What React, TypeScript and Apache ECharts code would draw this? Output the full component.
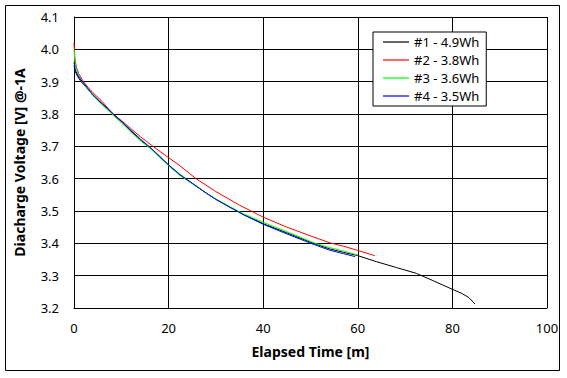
import React, { useEffect, useRef } from "react";
import * as echarts from "echarts";

const seriesNames = ["#1 - 4.9Wh", "#2 - 3.8Wh", "#3 - 3.6Wh", "#4 - 3.5Wh"];
const seriesColors = ["#000000", "#ff0000", "#00ff00", "#0000ff"];

const xTitle = "Elapsed Time [m]";
const yTitle = "Diacharge Voltage [V] @-1A";

// #1 - 4.9Wh (black)
const s1Time = [0, 0.3, 0.8, 1.5, 2.5, 4, 6, 8, 10, 12, 14, 16, 18, 20, 22.4, 25, 28, 30, 33, 36, 40, 44, 48, 51, 54, 57, 60, 64, 68.2, 72.4, 76, 79.5, 82, 83.5, 84.8];
const s1Volt = [3.95, 3.93, 3.915, 3.9, 3.884, 3.858, 3.83, 3.803, 3.776, 3.748, 3.72, 3.696, 3.669, 3.641, 3.611, 3.585, 3.555, 3.536, 3.512, 3.488, 3.461, 3.438, 3.415, 3.398, 3.383, 3.372, 3.362, 3.343, 3.325, 3.307, 3.284, 3.261, 3.245, 3.232, 3.212];

// #2 - 3.8Wh (red)
const s2Time = [0, 0.2, 0.5, 1, 2, 3, 4, 6, 8.2, 10, 12, 14, 16.7, 20, 22.4, 25.8, 30, 35, 40, 45, 50, 54, 57, 60, 63.6];
const s2Volt = [4.02, 3.97, 3.945, 3.925, 3.9, 3.882, 3.866, 3.838, 3.8, 3.78, 3.755, 3.73, 3.7, 3.665, 3.64, 3.6, 3.56, 3.518, 3.481, 3.45, 3.423, 3.402, 3.391, 3.378, 3.362];

// #3 - 3.6Wh (green)
const s3Time = [0, 0.3, 0.8, 1.5, 2.5, 4, 6, 8, 10, 12, 14, 16, 18, 20, 22.4, 25, 28, 30, 33, 36, 40, 44, 48, 51, 54, 57, 60];
const s3Volt = [4.0, 3.95, 3.925, 3.905, 3.885, 3.857, 3.828, 3.8, 3.773, 3.745, 3.718, 3.695, 3.668, 3.64, 3.61, 3.585, 3.555, 3.537, 3.513, 3.49, 3.465, 3.442, 3.418, 3.4, 3.387, 3.376, 3.364];

// #4 - 3.5Wh (blue)
const s4Time = [0, 0.3, 0.8, 1.5, 2.5, 4, 6, 8, 10, 12, 14, 16, 18, 20, 22.4, 25, 28, 30, 33, 36, 40, 44, 48, 51, 54, 57, 59.4];
const s4Volt = [3.96, 3.935, 3.92, 3.905, 3.887, 3.86, 3.832, 3.805, 3.778, 3.75, 3.723, 3.698, 3.671, 3.643, 3.613, 3.586, 3.555, 3.536, 3.511, 3.487, 3.459, 3.435, 3.412, 3.395, 3.379, 3.368, 3.359];

const allTimes = [s1Time, s2Time, s3Time, s4Time];
const allVolts = [s1Volt, s2Volt, s3Volt, s4Volt];

const FONT = "Noto Sans";

export default function App() {
  const ref = useRef<HTMLDivElement>(null);
  useEffect(() => {
    if (!ref.current) return;
    const chart = echarts.init(ref.current, undefined, { renderer: "svg" });
    const series = seriesNames.map((name, i) => ({
      name,
      type: "line",
      data: allTimes[i].map((t, j) => [t, allVolts[i][j]]),
      showSymbol: false,
      symbol: "none",
      lineStyle: { color: seriesColors[i], width: 1 },
      itemStyle: { color: seriesColors[i] },
      z: 2 + i,
    }));
    chart.setOption({
      animation: false,
      backgroundColor: "#ffffff",
      textStyle: { fontFamily: FONT },
      graphic: [
        {
          type: "rect",
          shape: { x: 5.5, y: 5.5, width: 554, height: 365 },
          style: { fill: "none", stroke: "#000", lineWidth: 1 },
          z: 0,
        },
      ],
      grid: { left: 74, top: 17, width: 473, height: 291, show: false },
      legend: {
        orient: "vertical",
        left: 373,
        top: 32,
        padding: [2, 7, 2, 10],
        itemWidth: 26,
        itemHeight: 16,
        itemGap: 2,
        icon: "path://M0,0H26V1.2H0Z",
        symbolKeepAspect: true,
        backgroundColor: "#ffffff",
        borderColor: "#000000",
        borderWidth: 1,
        textStyle: { fontFamily: FONT, fontSize: 13, color: "#000", lineHeight: 16 },
        data: seriesNames,
      },
      xAxis: {
        type: "value",
        min: 0,
        max: 100,
        interval: 20,
        name: xTitle,
        nameLocation: "middle",
        nameGap: 36,
        nameTextStyle: { fontFamily: FONT, fontSize: 14, fontWeight: "bold", color: "#000" },
        axisLine: { show: true, lineStyle: { color: "#000", width: 1 } },
        axisTick: { show: false },
        axisLabel: { margin: 13, fontSize: 13, color: "#000", fontFamily: FONT },
        splitLine: { show: true, lineStyle: { color: "#000", width: 1 } },
      },
      yAxis: {
        type: "value",
        min: 3.2,
        max: 4.1,
        interval: 0.1,
        name: yTitle,
        nameLocation: "middle",
        nameGap: 48,
        nameTextStyle: { fontFamily: FONT, fontSize: 14, fontWeight: "bold", color: "#000" },
        axisLine: { show: true, lineStyle: { color: "#000", width: 1 } },
        axisTick: { show: false },
        axisLabel: {
          margin: 15,
          fontSize: 13,
          color: "#000",
          fontFamily: FONT,
          formatter: (v: number) => v.toFixed(1),
        },
        splitLine: { show: true, lineStyle: { color: "#000", width: 1 } },
      },
      series,
    });
    return () => chart.dispose();
  }, []);
  return (
    <div
      ref={ref}
      style={{ position: "fixed", left: 0, top: 0, width: 567, height: 378, background: "#fff" }}
    />
  );
}
